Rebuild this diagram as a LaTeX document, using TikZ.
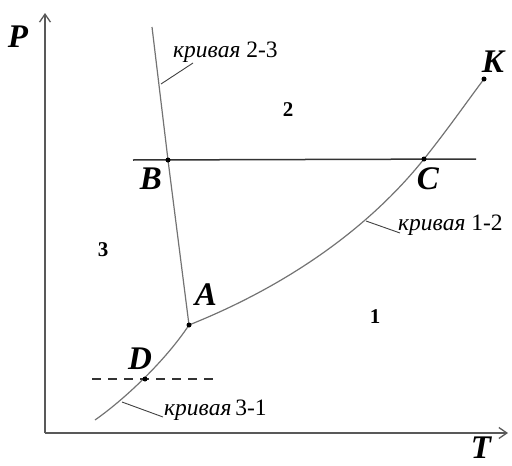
\documentclass[tikz,border=0pt]{standalone}
\usepackage{fontspec}
\setmainfont{Liberation Serif}
\usetikzlibrary{arrows.meta}
\begin{document}
\begin{tikzpicture}[x=1pt,y=-1pt,
  axis/.style={draw=black!65,line width=1.8pt,-{Straight Barb[length=8pt,width=11pt,line width=1.3pt]}},
  curve/.style={draw=black!55,line width=1.2pt},
  isoline/.style={draw=black!80,line width=1.5pt},
  leader/.style={draw=black!75,line width=0.9pt},
  pt/.style={circle,fill=black,inner sep=0pt,minimum size=5pt},
  biglbl/.style={font=\fontsize{33}{33}\selectfont\bfseries\itshape,inner sep=0pt},
  numlbl/.style={font=\fontsize{21}{21}\selectfont\bfseries,inner sep=0pt},
  crvlbl/.style={font=\fontsize{23.5}{23.5}\selectfont,inner sep=0pt}]
\useasboundingbox (0,0) rectangle (512,466);
% axes
\coordinate (O) at (45,433);
\coordinate (Ptip) at (45,13);
\coordinate (Ttip) at (508,433);
\draw[axis] (O) -- (Ptip);
\draw[axis] (O) -- (Ttip);
\node[biglbl] (Plbl) at (18,37) {P};
\node[biglbl,anchor=south] (Tlbl) at (481,459) {T};
% points
\coordinate (top) at (152,27);
\coordinate (B) at (168,160);
\coordinate (A) at (189,325);
\coordinate (C) at (424,159);
\coordinate (K) at (484,79);
\coordinate (D) at (145,379);
\coordinate (E) at (95,420);
\coordinate (BCl) at (133,160);
\coordinate (BCr) at (476,159);
\coordinate (Dl) at (92,379);
\coordinate (Dr) at (220,379);
% curves
\draw[curve] (top) -- (B) -- (A);
\draw[curve] (A) .. controls (279,289) and (364,234) .. (C)
                 .. controls (448,129) and (466,103) .. (K);
\draw[curve] (E) .. controls (125,399) and (166,360) .. (A);
\draw[isoline] (BCl) -- (BCr);
\draw[isoline,line width=1.3pt,dash pattern=on 9pt off 7pt] (Dl) -- (Dr);
% dots
\node[pt] (Bdot) at (B) {};
\node[pt] (Adot) at (A) {};
\node[pt] (Cdot) at (C) {};
\node[pt] (Kdot) at (K) {};
\node[pt] (Ddot) at (D) {};
% point labels
\node[biglbl] (Blbl) at (151,179) {B};
\node[biglbl] (Clbl) at (428,179) {C};
\node[biglbl] (Albl) at (206,295) {A};
\node[biglbl] (Dlbl) at (140,359) {D};
\node[biglbl] (Klbl) at (493,62) {K};
% region numbers
\node[numlbl] (n1) at (375,317) {1};
\node[numlbl] (n2) at (288,110) {2};
\node[numlbl] (n3) at (103,250) {3};
% curve labels and leaders
\node[crvlbl,anchor=west] (L23) at (173,52) {\textit{кривая} 2-3};
\node[crvlbl,anchor=west] (L12) at (398,225) {\textit{кривая} 1-2};
\node[crvlbl,anchor=west] (L31) at (164,410) {\textit{кривая}\,3-1};
\coordinate (c23) at (161,84);
\coordinate (e23) at (193,63);
\coordinate (c12) at (366,221);
\coordinate (e12) at (400,233);
\coordinate (c31) at (122,402);
\coordinate (e31) at (163,417);
\draw[leader] (c23) -- (e23);
\draw[leader] (c12) -- (e12);
\draw[leader] (c31) -- (e31);
\end{tikzpicture}
\end{document}
